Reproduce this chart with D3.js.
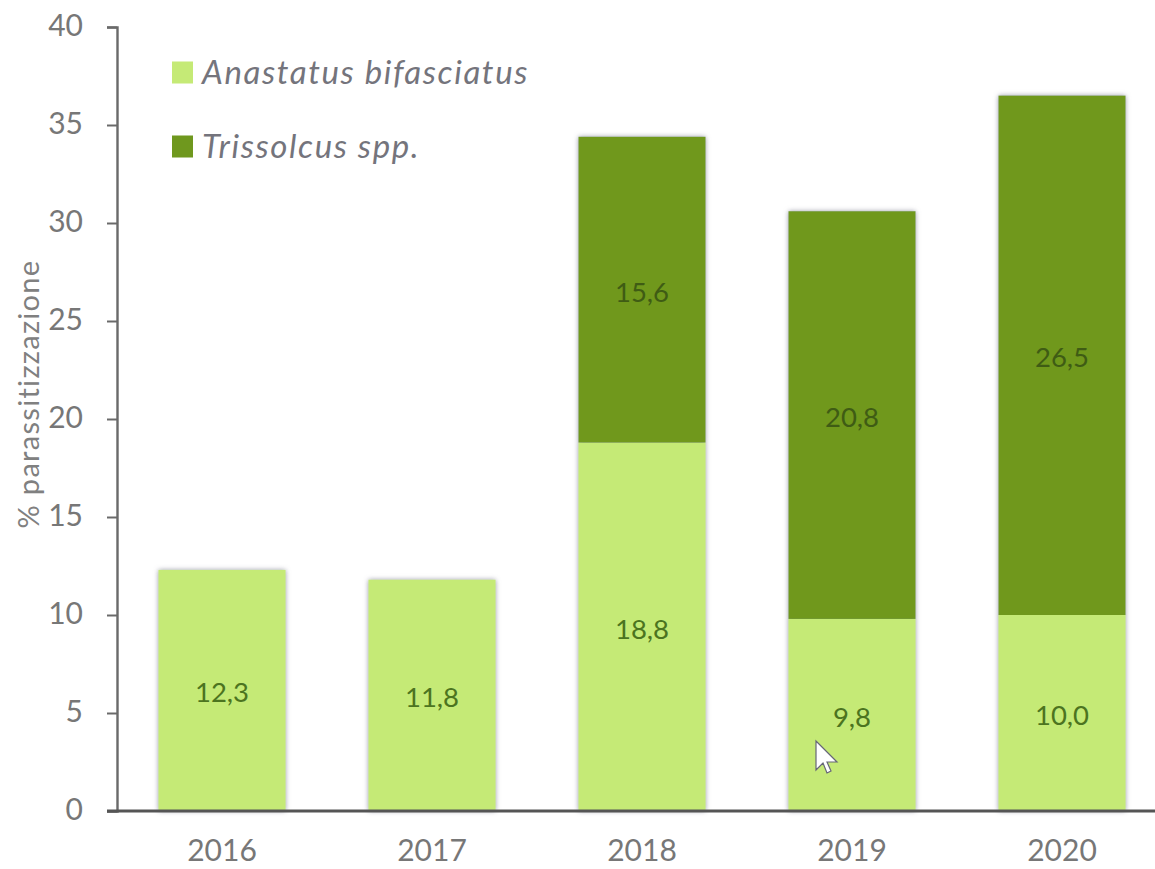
<!DOCTYPE html>
<html>
<head>
<meta charset="utf-8">
<script src="https://cdnjs.cloudflare.com/ajax/libs/d3/7.8.5/d3.min.js"></script>
<style>
html,body{margin:0;padding:0;background:#fff;overflow:hidden}
svg{display:block}
text{font-family:Lato,"Open Sans",sans-serif}
</style>
</head>
<body>
<svg id="chart" width="1155" height="869"></svg>
<script>
// Egg parasitism by year, stacked by parasitoid species
const years = ["2016","2017","2018","2019","2020"];
const anastatus = [12.3,11.8,18.8,9.8,10.0];
const trissolcus = [0,0,15.6,20.8,26.5];
const yTicks = [0,5,10,15,20,25,30,35,40];
const seriesNames = ["Anastatus bifasciatus","Trissolcus spp."];
const seriesColors = ["#c5ea76","#6f981e"];
const labelColors = ["#4c7420","#3f5c14"];
const yTitle = "% parassitizzazione";

const svg = d3.select("#chart");
const x = d3.scaleBand().domain(years).range([117,1167]).paddingInner(0.395).paddingOuter(0.1975);
const y = d3.scaleLinear().domain([0,40]).range([811,27]);
const fmt = v => v.toFixed(1).replace(".",",");

// soft shadow behind the columns
const defs = svg.append("defs");
const f = defs.append("filter").attr("id","shade").attr("x","-10%").attr("y","-5%").attr("width","120%").attr("height","110%");
f.append("feDropShadow").attr("dx",0).attr("dy",0).attr("stdDeviation",2.6).attr("flood-color","#77778a").attr("flood-opacity",0.75);

// stacked columns
const rows = years.map((yr,i)=>({year:yr,a:anastatus[i],t:trissolcus[i]}));
const stacked = d3.stack().keys(["a","t"])(rows);
const cols = svg.append("g").attr("filter","url(#shade)");
stacked.forEach((layer,k)=>{
  cols.selectAll(null).data(layer.filter(d=>d[1]>d[0])).join("rect")
    .attr("x",d=>x(d.data.year)).attr("width",x.bandwidth())
    .attr("y",d=>y(d[1])).attr("height",d=>y(d[0])-y(d[1]))
    .attr("fill",seriesColors[k]);
});

// value labels
stacked.forEach((layer,k)=>{
  svg.append("g").selectAll("text").data(layer.filter(d=>d[1]>d[0])).join("text")
    .attr("x",d=>x(d.data.year)+x.bandwidth()/2)
    .attr("y",d=>(y(d[0])+y(d[1]))/2+1.5)
    .attr("text-anchor","middle").attr("dominant-baseline","central")
    .attr("font-size",27.5).attr("fill",labelColors[k])
    .text(d=>fmt(d[1]-d[0]));
});

// axes
const gy = svg.append("g").attr("transform","translate(117,0)")
  .call(d3.axisLeft(y).tickValues(yTicks).tickSize(10).tickPadding(24));
gy.selectAll("path").attr("stroke","#6a6a6a").attr("stroke-width",2.4);
gy.selectAll("line").attr("stroke","#6a6a6a").attr("stroke-width",2);
gy.selectAll("text").attr("font-size",30).attr("fill","#777").attr("font-family","Lato,sans-serif").attr("dy","0.28em");

const gx = svg.append("g").attr("transform","translate(0,811)")
  .call(d3.axisBottom(x).tickSize(0).tickPadding(29));
gx.select("path").attr("stroke","#555").attr("stroke-width",3).attr("d","M107,0H1155");
gx.selectAll("text").attr("font-size",30).attr("fill","#777").attr("font-family","Lato,sans-serif");

// axis title
svg.append("text").attr("transform","translate(27,394) rotate(-90)")
  .attr("text-anchor","middle").attr("dominant-baseline","central")
  .attr("font-size",29).attr("letter-spacing",1.3).attr("fill","#808080").text(yTitle);

// legend
const legendY = d3.scalePoint().domain(seriesNames).range([72.5,146.5]);
const lg = svg.append("g").selectAll("g").data(seriesNames).join("g")
  .attr("transform",d=>`translate(172,${legendY(d)})`);
lg.append("rect").attr("y",-11).attr("width",21).attr("height",22).attr("fill",(d,i)=>seriesColors[i]);
lg.append("text").attr("x",30).attr("y",11).attr("font-size",33).attr("font-style","italic")
  .attr("letter-spacing",1.6).attr("fill","#74747c").text(d=>d);

// mouse pointer resting over the 2019 column
svg.append("path")
  .attr("transform",`translate(${x("2019")+x.bandwidth()/2-36},741)`)
  .attr("d","M0,0V29L7,22L11,32L15,30L11,21L21,21Z")
  .attr("fill","#fff").attr("stroke","#667").attr("stroke-width",1.2);
</script>
</body>
</html>
